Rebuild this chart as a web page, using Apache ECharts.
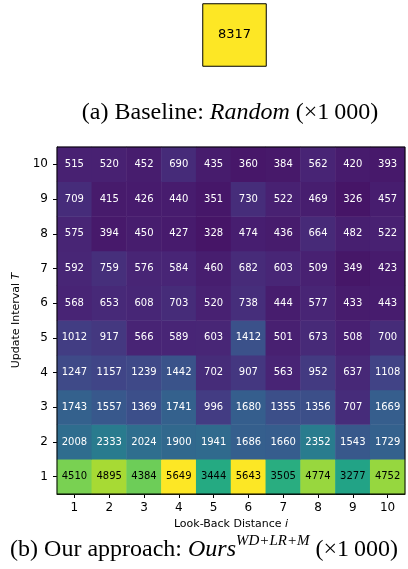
<!DOCTYPE html>
<html><head><meta charset="utf-8">
<script src="https://cdn.jsdelivr.net/npm/echarts@6/dist/echarts.min.js"></script>
<style>html,body{margin:0;padding:0;background:#fff}#c{width:408px;height:569px}</style>
</head><body><div id="c"></div>
<script>
// Data (values ×1000)
const lookBackDistance = ['1','2','3','4','5','6','7','8','9','10'];
const updateInterval = ['1','2','3','4','5','6','7','8','9','10'];
const baselineRandom = 8317;
const rowT1  = [4510, 4895, 4384, 5649, 3444, 5643, 3505, 4774, 3277, 4752];
const rowT2  = [2008, 2333, 2024, 1900, 1941, 1686, 1660, 2352, 1543, 1729];
const rowT3  = [1743, 1557, 1369, 1741, 996, 1680, 1355, 1356, 707, 1669];
const rowT4  = [1247, 1157, 1239, 1442, 702, 907, 563, 952, 637, 1108];
const rowT5  = [1012, 917, 566, 589, 603, 1412, 501, 673, 508, 700];
const rowT6  = [568, 653, 608, 703, 520, 738, 444, 577, 433, 443];
const rowT7  = [592, 759, 576, 584, 460, 682, 603, 509, 349, 423];
const rowT8  = [575, 394, 450, 427, 328, 474, 436, 664, 482, 522];
const rowT9  = [709, 415, 426, 440, 351, 730, 522, 469, 326, 457];
const rowT10 = [515, 520, 452, 690, 435, 360, 384, 562, 420, 393];
const rows = [rowT1,rowT2,rowT3,rowT4,rowT5,rowT6,rowT7,rowT8,rowT9,rowT10];

const viridis = ['#440154','#482475','#414487','#355f8d','#2a788e','#21918c','#22a884','#44bf70','#7ad151','#bddf26','#fde725'];

const all = rows.flat();
const vmin = 0, vmax = Math.max(...all);
const data = [];
rows.forEach((r, yi) => r.forEach((v, xi) => {
  data.push({ value: [xi, yi, v], label: { color: v > vmax / 2 ? '#000' : '#fff' } });
}));

const chart = echarts.init(document.getElementById('c'), null, { renderer: 'canvas' });
const serif = 'Liberation Serif';
const sans = 'DejaVu Sans';
chart.setOption({
  animation: false,
  backgroundColor: '#fff',
  grid: [
    { left: 203, top: 4, width: 63, height: 62, containLabel: false },
    { left: 57, top: 147, width: 348, height: 347, show: true, z: 10, backgroundColor: 'transparent', borderColor: '#000', borderWidth: 1 }
  ],
  xAxis: [
    { type: 'category', gridIndex: 0, data: ['a'], show: false },
    { type: 'category', gridIndex: 1, data: lookBackDistance,
      axisLine: { show: true, lineStyle: { color: '#000', width: 1 } },
      axisTick: { show: true, alignWithLabel: true, length: 4, lineStyle: { color: '#000' } },
      axisLabel: { color: '#000', fontFamily: sans, fontSize: 12, margin: 8 },
      splitLine: { show: false }, splitArea: { show: false },
      name: '{n|Look-Back Distance }{i|i}', nameLocation: 'middle', nameGap: 24,
      nameTextStyle: { rich: { n: { fontFamily: sans, fontSize: 11, color: '#000' }, i: { fontFamily: sans, fontSize: 11, fontStyle: 'italic', color: '#000' } } }
    }
  ],
  yAxis: [
    { type: 'category', gridIndex: 0, data: ['a'], show: false },
    { type: 'category', gridIndex: 1, data: updateInterval,
      axisLine: { show: true, lineStyle: { color: '#000', width: 1 } },
      axisTick: { show: true, alignWithLabel: true, length: 4, lineStyle: { color: '#000' } },
      axisLabel: { color: '#000', fontFamily: sans, fontSize: 12, margin: 9 },
      splitLine: { show: false }, splitArea: { show: false },
      name: '{n|Update Interval }{i|T}', nameLocation: 'middle', nameGap: 32,
      nameTextStyle: { rich: { n: { fontFamily: sans, fontSize: 11, color: '#000' }, i: { fontFamily: sans, fontSize: 11, fontStyle: 'italic', color: '#000' } } }
    }
  ],
  visualMap: [{ show: false, seriesIndex: 1, min: vmin, max: vmax, inRange: { color: viridis }, calculable: false }],
  series: [
    { type: 'heatmap', xAxisIndex: 0, yAxisIndex: 0,
      data: [{ value: [0, 0, baselineRandom] }],
      itemStyle: { color: '#fde725', borderColor: '#000', borderWidth: 1 },
      label: { show: true, formatter: p => p.value[2], fontFamily: sans, fontSize: 13, color: '#000' },
      emphasis: { disabled: true }
    },
    { type: 'heatmap', xAxisIndex: 1, yAxisIndex: 1, data: data,
      label: { show: true, formatter: p => p.value[2], fontFamily: sans, fontSize: 10 },
      emphasis: { disabled: true }
    }
  ],
  graphic: [
    { type: 'text', x: 230, y: 113, style: {
        text: '{n|(a) Baseline: }{i|Random}{n| (×1\u2009000)}', align: 'center', verticalAlign: 'middle',
        rich: { n: { fontFamily: serif, fontSize: 24, fill: '#000' }, i: { fontFamily: serif, fontSize: 24, fontStyle: 'italic', fill: '#000' } }
    } },
    { type: 'text', x: 204, y: 550, style: {
        text: '{n|(b) Our approach: }{i|Ours}{s|WD+LR+M}{n| (×1\u2009000)}', align: 'center', verticalAlign: 'middle',
        rich: {
          n: { fontFamily: serif, fontSize: 24, fill: '#000' },
          i: { fontFamily: serif, fontSize: 24, fontStyle: 'italic', fill: '#000' },
          s: { fontFamily: serif, fontSize: 15, fontStyle: 'italic', fill: '#000', padding: [0, 0, 18, 0] }
        }
    } }
  ]
});
</script></body></html>
